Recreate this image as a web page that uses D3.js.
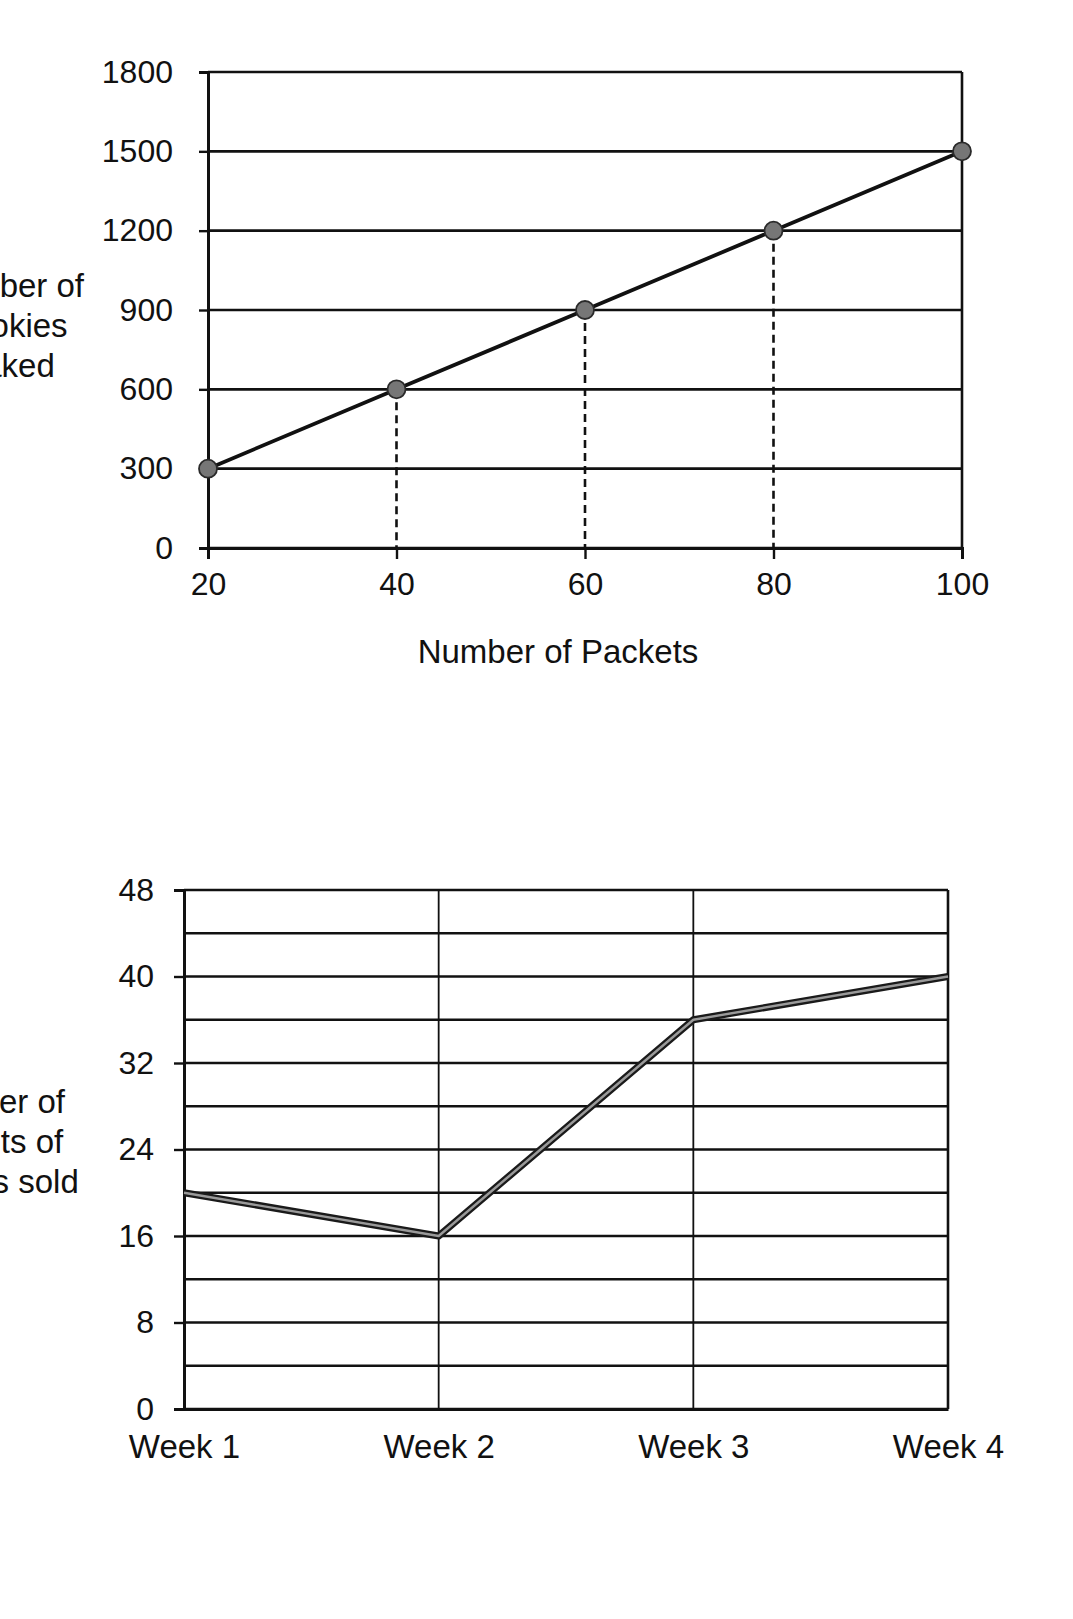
<!DOCTYPE html>
<html>
<head>
<meta charset="utf-8">
<script src="https://cdn.jsdelivr.net/npm/d3@7"></script>
<style>
  html, body { margin: 0; padding: 0; background: #fff; }
  svg { display: block; }
  text { font-family: "Liberation Sans", Arial, sans-serif; fill: #111; }
</style>
</head>
<body>
<svg id="chart" width="1073" height="1619"></svg>
<script>
// ---------- Chart 1 data ----------
const packets = [20, 40, 60, 80, 100];
const cookiesBaked = [300, 600, 900, 1200, 1500];
const chart1YTicks = [0, 300, 600, 900, 1200, 1500, 1800];
const chart1XTicks = [20, 40, 60, 80, 100];
const chart1YLabel = ["Number of", "Cookies", "Baked"];
const chart1XLabel = "Number of Packets";

// ---------- Chart 2 data ----------
const weeks = ["Week 1", "Week 2", "Week 3", "Week 4"];
const packetsSold = [20, 16, 36, 40];
const chart2YTicks = [0, 8, 16, 24, 32, 40, 48];
const chart2MinorTicks = [4, 12, 20, 28, 36, 44];
const chart2YLabel = ["Number of", "packets of", "cookies sold"];

const svg = d3.select("#chart");
const TICKFONT = 32;
const TITLEFONT = 33;
const INK = "#111";

function styleAxis(sel, fs) {
  sel.select(".domain").attr("stroke", INK).attr("stroke-width", 3);
  sel.selectAll(".tick line").attr("stroke", INK).attr("stroke-width", 2.4);
  sel.selectAll(".tick text").attr("font-size", fs)
    .attr("font-family", "Liberation Sans, Arial, sans-serif").attr("fill", INK);
}

// ================= Chart 1 =================
(function () {
  const left = 208, right = 962, top = 72, bottom = 548;
  const x = d3.scaleLinear().domain([20, 100]).range([left, right]);
  const y = d3.scaleLinear().domain([0, 1800]).range([bottom, top]);
  const g = svg.append("g");

  // horizontal gridlines
  g.selectAll("line.grid").data(chart1YTicks).join("line")
    .attr("x1", left).attr("x2", right)
    .attr("y1", d => y(d)).attr("y2", d => y(d))
    .attr("stroke", INK).attr("stroke-width", 2.6);

  // right border
  g.append("line").attr("x1", right).attr("x2", right)
    .attr("y1", top).attr("y2", bottom)
    .attr("stroke", INK).attr("stroke-width", 2.6);

  // y axis
  const ya = g.append("g").attr("transform", `translate(${left},0)`)
    .call(d3.axisLeft(y).tickValues(chart1YTicks).tickSize(9).tickPadding(26).tickFormat(d3.format("d")));
  styleAxis(ya, TICKFONT);

  // x axis
  const xa = g.append("g").attr("transform", `translate(0,${bottom})`)
    .call(d3.axisBottom(x).tickValues(chart1XTicks).tickSize(11).tickPadding(13));
  styleAxis(xa, TICKFONT);

  const pts = packets.map((p, i) => ({ x: p, y: cookiesBaked[i] }));

  // dashed drop lines (interior points)
  g.selectAll("line.drop").data(pts.filter(d => d.x > 20 && d.x < 100)).join("line")
    .attr("x1", d => x(d.x)).attr("x2", d => x(d.x))
    .attr("y1", d => y(d.y)).attr("y2", bottom)
    .attr("stroke", INK).attr("stroke-width", 2.6)
    .attr("stroke-dasharray", "8,5");

  // line
  g.append("path").datum(pts)
    .attr("fill", "none").attr("stroke", INK).attr("stroke-width", 3.8)
    .attr("d", d3.line().x(d => x(d.x)).y(d => y(d.y)));

  // markers
  g.selectAll("circle").data(pts).join("circle")
    .attr("cx", d => x(d.x)).attr("cy", d => y(d.y)).attr("r", 9)
    .attr("fill", "#767676").attr("stroke", "#2a2a2a").attr("stroke-width", 1.8);

  // axis titles
  g.append("text").attr("x", 558).attr("y", 663)
    .attr("text-anchor", "middle").attr("font-size", TITLEFONT).text(chart1XLabel);
  g.append("text").attr("text-anchor", "middle").attr("font-size", TITLEFONT)
    .selectAll("tspan").data(chart1YLabel).join("tspan")
    .attr("x", (d, i) => i === 0 ? 7 : 8).attr("y", (d, i) => 297 + i * 40).text(d => d);
})();

// ================= Chart 2 =================
(function () {
  const left = 184, right = 948, top = 890, bottom = 1409;
  const x = d3.scalePoint().domain(weeks).range([left, right]);
  const y = d3.scaleLinear().domain([0, 48]).range([bottom, top]);
  const g = svg.append("g");

  // minor + major horizontal gridlines
  g.selectAll("line.hgrid").data(chart2YTicks.concat(chart2MinorTicks)).join("line")
    .attr("x1", left).attr("x2", right)
    .attr("y1", d => y(d)).attr("y2", d => y(d))
    .attr("stroke", INK).attr("stroke-width", 2.4);

  // vertical gridlines at each week
  g.selectAll("line.vgrid").data(weeks.slice(1)).join("line")
    .attr("x1", d => x(d)).attr("x2", d => x(d))
    .attr("y1", top).attr("y2", bottom)
    .attr("stroke", INK).attr("stroke-width", d => d === weeks[weeks.length - 1] ? 2.6 : 1.8);

  // y axis
  const ya = g.append("g").attr("transform", `translate(${left},0)`)
    .call(d3.axisLeft(y).tickValues(chart2YTicks).tickSize(10).tickPadding(20).tickFormat(d3.format("d")));
  styleAxis(ya, TICKFONT);

  // x axis
  const xa = g.append("g").attr("transform", `translate(0,${bottom})`)
    .call(d3.axisBottom(x).tickSize(0).tickPadding(26));
  styleAxis(xa, TITLEFONT);

  const pts = weeks.map((w, i) => ({ x: w, y: packetsSold[i] }));
  const line = d3.line().x(d => x(d.x)).y(d => y(d.y));

  // outlined gray line
  g.append("path").datum(pts)
    .attr("fill", "none").attr("stroke", "#1a1a1a").attr("stroke-width", 7)
    .attr("stroke-linejoin", "round").attr("d", line);
  g.append("path").datum(pts)
    .attr("fill", "none").attr("stroke", "#9a9a9a").attr("stroke-width", 2.4)
    .attr("stroke-linejoin", "round").attr("d", line);

  // y title (cut off at left edge)
  g.append("text").attr("text-anchor", "middle").attr("font-size", TITLEFONT)
    .selectAll("tspan").data(chart2YLabel).join("tspan")
    .attr("x", -12).attr("y", (d, i) => 1113 + i * 40).text(d => d);
})();
</script>
</body>
</html>
